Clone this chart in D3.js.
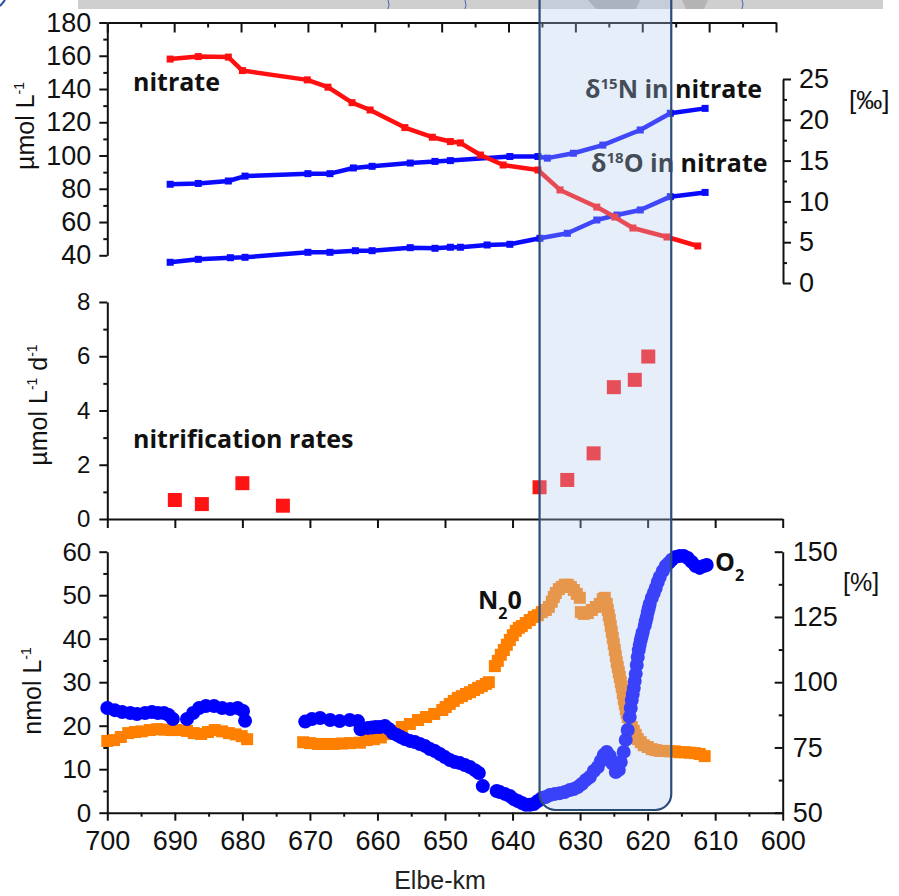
<!DOCTYPE html>
<html>
<head>
<meta charset="utf-8">
<script src="https://cdn.jsdelivr.net/npm/d3@7"></script>
<style>
  body { margin: 0; background: #fff; }
  svg { display: block; font-family: "Liberation Sans", Arial, sans-serif; }
  .axis path, .axis line { stroke: #111; stroke-width: 2; }
  .axis text { fill: #111; }
  .lbl { font-family: "Open Sans", sans-serif; font-weight: bold; fill: #111; }
</style>
</head>
<body>
<svg id="chart" width="899" height="896"></svg>
<script>
// ---- data: [Elbe-km, value] ----
const nitrate = [[690.6,158],[686.4,159.5],[681.9,159.2],[679.8,151.1],[670.1,145.5],[667.0,141.1],
  [663.4,131.8],[660.7,127.4],[655.5,116.8],[651.4,111.0],[648.7,108.4],[647.2,107.6],[644.2,100.3],
  [640.8,94.3],[635.6,91.3],[632.3,79.3],[626.8,69.0],[624.1,63.0],[621.4,56.4],[616.3,51.0],[611.7,45.6]];

const d15N = [[690.6,12.1],[686.4,12.2],[681.9,12.5],[679.4,13.1],[670.0,13.4],[666.7,13.4],[663.2,14.1],
  [660.4,14.3],[654.7,14.7],[651.0,14.9],[648.7,15.0],[639.8,15.5],[635.6,15.5],[634.2,15.3],[630.3,15.9],
  [625.9,16.9],[620.3,18.75],[615.8,20.8],[610.6,21.4]];

const d18O = [[690.6,2.54],[686.4,2.9],[681.6,3.1],[679.4,3.15],[670.0,3.76],[666.7,3.76],[662.9,3.96],
  [660.4,3.96],[654.7,4.33],[651.0,4.25],[648.7,4.38],[647.2,4.38],[643.2,4.66],[639.8,4.74],[635.3,5.48],
  [631.2,6.09],[626.8,7.72],[623.8,8.33],[620.3,8.95],[615.8,10.58],[610.6,11.1]];

const nitrification = [[690.0,0.70],[686.0,0.55],[680.0,1.32],[674.0,0.49],[636.0,1.17],[631.9,1.44],
  [628.0,2.42],[625.0,4.86],[621.9,5.13],[619.9,5.99]];

const n2o = [[700.0,16.5],[699.0,16.7],[698.0,17.4],[696.9,18.3],[695.9,18.55],[694.9,18.7],[693.7,19.0],
  [692.6,19.2],[691.6,19.1],[690.6,19.0],[689.8,19.0],
  [688.2,18.8],[687.2,18.3],[686.1,18.1],[685.1,18.55],[684.1,19.0],[683.0,18.7],[682.0,18.3],[681.0,18.0],
  [680.1,17.6],[679.3,16.9],
  [671.0,16.2],[670.0,16.0],[668.8,15.8],[667.6,15.8],[666.5,15.8],[665.3,15.9],[664.1,16.0],[662.6,16.1],
  [661.6,16.7],[660.5,16.9],[659.5,17.3],[658.4,18.1],[657.4,18.8],[656.4,19.7],[655.2,20.4],[654.0,21.3],
  [652.8,22.0],[651.6,22.7],[650.4,23.6],[649.9,24.3],[649.3,25.0],[648.7,25.7],[648.1,26.4],[647.5,26.8],
  [646.9,27.3],[646.3,27.7],[645.7,28.2],[645.1,28.7],[644.55,29.1],[643.96,29.6],[643.51,30.0],
  [642.62,33.7],[642.18,34.9],[641.74,36.3],[641.29,37.4],[640.85,38.6],[640.40,39.7],[639.96,40.8],
  [639.52,41.8],[639.07,42.5],[638.63,42.9],[638.04,43.6],[637.44,44.3],[636.85,45.0],[636.26,45.4],
  [635.67,46.1],[635.07,46.6],[634.63,47.3],[634.19,48.5],[633.89,49.6],[633.59,50.5],[633.15,51.4],
  [632.71,51.9],[632.26,52.4],[631.82,52.4],[631.37,51.9],[630.93,51.2],[630.49,50.3],[630.04,49.4],
  [629.89,46.1],[629.45,45.7],[628.86,45.9],[628.27,46.6],[627.67,47.3],[627.08,48.0],[626.64,49.1],
  [626.34,49.4],[626.05,48.0],[625.90,46.6],[625.75,45.4],[625.60,44.3],[625.46,42.9],[625.31,41.6],
  [625.16,40.2],[625.01,38.8],[624.86,37.4],[624.71,36.0],[624.57,34.6],[624.42,33.5],[624.27,32.3],
  [624.12,31.2],[623.97,30.0],[623.83,28.9],[623.68,27.5],[623.53,26.1],[623.38,25.0],[623.23,23.8],
  [623.09,22.9],[622.94,22.0],[622.64,20.9],[622.35,19.7],[622.05,18.8],[621.76,17.9],[621.46,16.9],
  [621.02,16.2],[620.57,15.5],[619.98,15.1],[619.39,14.6],[618.80,14.4],[618.21,14.2],[617.47,14.2],
  [616.73,14.1],[615.99,14.1],[615.25,13.9],[614.51,13.9],[613.77,13.8],[613.03,13.7],[612.29,13.5],
  [611.55,13.0]];

const o2 = [[700.0,90.1],[698.9,89.3],[697.8,88.6],[696.6,88.2],[695.6,87.8],[694.4,88.2],[693.4,88.6],
  [692.5,88.2],[691.6,88.2],[690.9,87.4],[690.3,85.9],
  [688.2,85.9],[687.3,88.2],[686.4,90.1],[685.4,90.9],[684.2,90.9],[683.0,90.1],[681.8,89.7],[680.7,90.1],
  [679.9,89.0],[679.6,85.2],
  [670.7,84.9],[669.7,85.9],[668.5,86.3],[667.0,85.5],[665.6,85.1],[664.1,85.5],[662.9,85.1],[662.5,82.0],
  [661.42,82.5],[660.83,82.6],[660.24,82.8],[659.64,82.8],[658.90,83.2],[658.31,82.1],[657.72,80.5],
  [657.13,79.8],[656.53,79.0],[655.94,78.2],[655.20,77.5],[654.46,77.1],[653.72,76.3],[652.98,75.6],
  [652.24,74.4],[651.50,73.6],[650.76,72.5],[650.02,71.3],[649.28,70.2],[648.54,69.4],[647.80,69.0],
  [647.06,68.3],[646.32,67.5],[645.58,66.3],[644.99,65.2],[644.40,60.2],
  [642.35,58.3],[641.88,57.9],[641.14,57.2],[640.40,56.4],[639.81,55.2],[639.22,54.5],[638.62,53.7],
  [638.03,53.0],[637.44,53.0],[636.85,53.3],[636.26,54.5],[635.66,55.6],[635.07,56.0],[634.48,56.8],
  [633.74,57.2],[633.00,57.5],[632.26,57.9],[631.52,58.7],[630.93,59.1],[630.34,59.8],[629.75,61.0],
  [629.16,62.5],[628.56,63.7],[627.97,66.0],[627.38,67.5],[626.93,69.8],[626.49,72.1],[626.05,73.3],
  [625.60,71.7],[625.16,68.7],[624.71,65.6],[624.27,66.4],[623.98,69.4],[623.54,73.3],[623.24,77.9],
  [622.95,81.7],[622.65,86.7],[622.50,90.1],[622.35,93.2],[622.20,95.5],[622.05,97.8],[621.91,100.5],
  [621.76,103.2],[621.61,106.6],[621.46,109.7],[621.31,112.3],[621.17,114.3],[621.02,116.2],[620.87,117.7],
  [620.72,119.2],[620.43,121.6],[620.28,123.4],[620.13,125.0],[619.98,126.9],[619.83,128.4],[619.69,130.0],
  [619.39,132.3],[619.09,134.2],[618.80,136.1],[618.50,138.4],[618.21,140.3],[617.76,142.6],[617.32,144.5],
  [616.87,145.7],[616.43,146.9],[615.84,148.0],[615.25,148.4],[614.65,148.4],[614.06,147.6],[613.47,146.1],
  [612.88,144.5],[612.29,143.8],[611.70,144.5],[611.25,144.9]];

const kmMajor = d3.range(600, 701, 10);
const kmMinor = d3.range(605, 700, 10);
const zone = [636, 616.5];   // shaded stretch (km)

const svg = d3.select("#chart");

// scales
const x = d3.scaleLinear().domain([700, 600]).range([107.3, 782.7]);
const xTop = d3.scaleLinear().domain([700, 600]).range([107.3, 776]);
const yNit = d3.scaleLinear().domain([40, 180]).range([255.3, 22.5]);
const yDel = d3.scaleLinear().domain([0, 25]).range([283, 79]);
const yRate = d3.scaleLinear().domain([0, 8]).range([519, 302]);
const yN2O = d3.scaleLinear().domain([0, 60]).range([812.7, 551.7]);
const yO2 = d3.scaleLinear().domain([50, 150]).range([812.7, 551.7]);

// map strip at the very top (cropped from an upper figure)
svg.append("rect").attr("x", 78).attr("y", 0).attr("width", 805).attr("height", 9).attr("fill", "#cfcfcf");
svg.append("path").attr("d", "M588,0 L640,0 L636,9 L596,9 Z").attr("fill", "#a9a9a9");
svg.append("path").attr("d", "M682,0 L708,0 L704,9 L686,9 Z").attr("fill", "#b4b4b4");
[[388, 4], [465, 3], [742, 5]].forEach(d => {
  svg.append("path").attr("d", `M${d[0]},9 q2,-${d[1]} 0,-9`)
    .attr("fill", "none").attr("stroke", "#4a63b8").attr("stroke-width", 1);
});
svg.append("path").attr("d", "M0,6 L5,0").attr("stroke", "#2b4fa0").attr("stroke-width", 2);

function axis(g, gen, fs) {
  g.attr("class", "axis").call(gen).attr("font-family", null).attr("font-size", fs);
  return g;
}

// ---- top panel ----
axis(svg.append("g").attr("transform", "translate(0,22.5)"),
  d3.axisTop(xTop).tickValues(kmMajor).tickSize(-10).tickSizeOuter(0).tickFormat(""), 26);
axis(svg.append("g").attr("transform", "translate(0,22.5)"),
  d3.axisTop(xTop).tickValues(kmMinor).tickSize(-5).tickFormat(""), 26).select(".domain").remove();
axis(svg.append("g").attr("transform", "translate(107.3,0)"),
  d3.axisLeft(yNit).tickValues(d3.range(40, 181, 20)).tickSize(8).tickPadding(8).tickSizeOuter(0), 27);
axis(svg.append("g").attr("transform", "translate(107.3,0)"),
  d3.axisLeft(yNit).tickValues(d3.range(50, 171, 20)).tickSize(4).tickFormat(""), 27).select(".domain").remove();
axis(svg.append("g").attr("transform", "translate(783,0)"),
  d3.axisRight(yDel).tickValues(d3.range(0, 26, 5)).tickSize(8).tickPadding(8).tickSizeOuter(0), 27);
axis(svg.append("g").attr("transform", "translate(783,0)"),
  d3.axisRight(yDel).tickValues(d3.range(2.5, 25, 5)).tickSize(4).tickFormat(""), 27).select(".domain").remove();

const lineDel = d3.line().x(d => xTop(d[0])).y(d => yDel(d[1]));
const lineNit = d3.line().x(d => xTop(d[0])).y(d => yNit(d[1]));

[d15N, d18O].forEach(s => {
  svg.append("path").attr("d", lineDel(s)).attr("fill", "none")
    .attr("stroke", "#0a0aff").attr("stroke-width", 4.5).attr("stroke-linejoin", "round");
  svg.append("g").selectAll("rect").data(s).join("rect")
    .attr("x", d => xTop(d[0]) - 3.5).attr("y", d => yDel(d[1]) - 3.5)
    .attr("width", 7).attr("height", 7).attr("fill", "#0a0aff");
});
svg.append("path").attr("d", lineNit(nitrate)).attr("fill", "none")
  .attr("stroke", "#ff1010").attr("stroke-width", 4.5).attr("stroke-linejoin", "round");
svg.append("g").selectAll("rect").data(nitrate).join("rect")
  .attr("x", d => xTop(d[0]) - 3.5).attr("y", d => yNit(d[1]) - 3.5)
  .attr("width", 7).attr("height", 7).attr("fill", "#ff1010");

// ---- middle panel ----
axis(svg.append("g").attr("transform", "translate(107.3,0)"),
  d3.axisLeft(yRate).tickValues(d3.range(0, 9, 2)).tickSize(8).tickPadding(9).tickSizeOuter(0), 24);
axis(svg.append("g").attr("transform", "translate(107.3,0)"),
  d3.axisLeft(yRate).tickValues([1, 3, 5, 7]).tickSize(4).tickFormat(""), 24).select(".domain").remove();
axis(svg.append("g").attr("transform", "translate(0,519)"),
  d3.axisBottom(x).tickValues(kmMajor).tickSize(9).tickSizeOuter(0).tickFormat(""), 24);

svg.append("g").selectAll("rect").data(nitrification).join("rect")
  .attr("x", d => x(d[0]) - 7).attr("y", d => yRate(d[1]) - 7)
  .attr("width", 14).attr("height", 14).attr("fill", "#ff1414");

// ---- bottom panel ----
axis(svg.append("g").attr("transform", "translate(107.3,0)"),
  d3.axisLeft(yN2O).tickValues(d3.range(0, 61, 10)).tickSize(8).tickPadding(8).tickSizeOuter(0), 26);
axis(svg.append("g").attr("transform", "translate(107.3,0)"),
  d3.axisLeft(yN2O).tickValues(d3.range(5, 60, 10)).tickSize(4).tickFormat(""), 26).select(".domain").remove();
axis(svg.append("g").attr("transform", "translate(782.7,0)"),
  d3.axisRight(yO2).tickValues(d3.range(50, 151, 25)).tickSize(-8).tickPadding(10).tickSizeOuter(0), 27);
axis(svg.append("g").attr("transform", "translate(782.7,0)"),
  d3.axisRight(yO2).tickValues(d3.range(62.5, 150, 25)).tickSize(-4).tickFormat(""), 27).select(".domain").remove();
axis(svg.append("g").attr("transform", "translate(0,812.7)"),
  d3.axisBottom(x).tickValues(kmMajor).tickSize(8).tickPadding(10).tickSizeOuter(0), 27);
axis(svg.append("g").attr("transform", "translate(0,812.7)"),
  d3.axisBottom(x).tickValues(kmMinor).tickSize(4).tickFormat(""), 27).select(".domain").remove();

svg.append("g").selectAll("rect").data(n2o).join("rect")
  .attr("x", d => x(d[0]) - 6).attr("y", d => yN2O(d[1]) - 6)
  .attr("width", 12).attr("height", 12).attr("fill", "#ff7f00");
svg.append("g").selectAll("circle").data(o2).join("circle")
  .attr("cx", d => x(d[0])).attr("cy", d => yO2(d[1])).attr("r", 7).attr("fill", "#0000ff");

// ---- text ----
svg.append("text").attr("class", "lbl").attr("x", 133).attr("y", 91).attr("font-size", 25).text("nitrate");
svg.append("text").attr("class", "lbl").attr("x", 133).attr("y", 448).attr("font-size", 25).text("nitrification rates");

function iso(xp, yp, sup, rest) {
  const t = svg.append("text").attr("class", "lbl").attr("x", xp).attr("y", yp).attr("font-size", 25);
  t.append("tspan").text("δ");
  t.append("tspan").attr("font-size", 15).attr("dy", -9).text(sup);
  t.append("tspan").attr("dy", 9).text(rest);
}
iso(585, 98, "15", "N in nitrate");
iso(591, 172, "18", "O in nitrate");

const tN = svg.append("text").attr("class", "lbl").attr("x", 478).attr("y", 609).attr("font-size", 25);
tN.append("tspan").text("N");
tN.append("tspan").attr("font-size", 16).attr("dy", 10).text("2");
tN.append("tspan").attr("dy", -10).text("0");
const tO = svg.append("text").attr("class", "lbl").attr("x", 715).attr("y", 571).attr("font-size", 25);
tO.append("tspan").text("O");
tO.append("tspan").attr("font-size", 16).attr("dy", 10).text("2");

svg.append("text").attr("x", 849).attr("y", 109).attr("font-size", 26).attr("fill", "#111").text("[‰]");
svg.append("text").attr("x", 843).attr("y", 591).attr("font-size", 25).attr("fill", "#111").text("[%]");

svg.append("text").attr("x", 440).attr("y", 889).attr("text-anchor", "middle")
  .attr("font-size", 25).attr("fill", "#222").text("Elbe-km");

function ytitle(tx, ty, parts) {
  const t = svg.append("text").attr("transform", `translate(${tx},${ty}) rotate(-90)`)
    .attr("text-anchor", "middle").attr("font-size", 25).attr("fill", "#111");
  parts.forEach(p => {
    if (p.sup) t.append("tspan").attr("font-size", 14).attr("dy", -10).text(p.sup);
    else t.append("tspan").attr("dy", p.back ? 10 : 0).text(p.t);
  });
}
ytitle(34, 126, [{t: "µmol L"}, {sup: "-1"}]);
ytitle(47, 405, [{t: "µmol L"}, {sup: "-1"}, {t: " d", back: true}, {sup: "-1"}]);
ytitle(41, 691, [{t: "nmol L"}, {sup: "-1"}]);

// ---- shaded stretch on top of everything ----
const x0 = x(zone[0]), x1 = x(zone[1]), yb = 810, r = 16;
svg.append("path")
  .attr("d", `M${x0},-5 L${x0},${yb - r} A${r},${r} 0 0 0 ${x0 + r},${yb} L${x1 - r},${yb} A${r},${r} 0 0 0 ${x1},${yb - r} L${x1},-5 Z`)
  .attr("fill", "#b2caeb").attr("fill-opacity", 0.32)
  .attr("stroke", "#2c4d7a").attr("stroke-width", 2.2);
</script>
</body>
</html>
